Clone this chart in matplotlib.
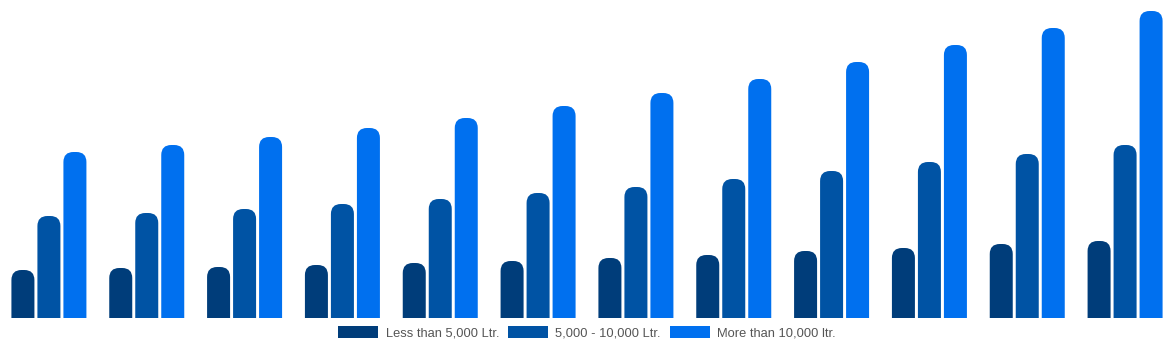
import numpy as np
import matplotlib.pyplot as plt
from matplotlib.patches import FancyBboxPatch, Patch

plt.rcParams["font.family"] = ["Liberation Sans", "DejaVu Sans"]

categories = ["1", "2", "3", "4", "5", "6", "7", "8", "9", "10", "11", "12"]
less_5000 = [48, 50, 51, 53, 55, 57, 60, 63, 67, 70, 74, 77]
mid_5000_10000 = [102, 105, 109, 114, 119, 125, 131, 139, 147, 156, 164, 173]
more_10000 = [166, 173, 181, 190, 200, 212, 225, 239, 256, 273, 290, 307]

series = [
    ("Less than 5,000 Ltr.", less_5000, "#003d7a"),
    ("5,000 - 10,000 Ltr.", mid_5000_10000, "#0053a4"),
    ("More than 10,000 ltr.", more_10000, "#0070ef"),
]

W, H, DPI = 1174, 350, 100
fig = plt.figure(figsize=(W / DPI, H / DPI), dpi=DPI)
ax = fig.add_axes([0, 32 / H, 1, 318 / H])
ax.set_xlim(-0.5, len(categories) - 0.5)
ax.set_ylim(0, 318)
ax.axis("off")

x = np.arange(len(categories))
px_per_x = W / len(categories)
bar_w = 23 / px_per_x
step = 26 / px_per_x
radius = 10 / px_per_x
aspect = px_per_x  # 1 y unit = 1 px

for k, (label, vals, color) in enumerate(series):
    bars = ax.bar(x + (k - 1) * step, vals, width=bar_w, color=color)
    for rect in bars:
        rect.set_visible(False)
        r = FancyBboxPatch(
            (rect.get_x(), -20),
            rect.get_width(),
            rect.get_height() + 20,
            boxstyle=f"round,pad=0,rounding_size={radius}",
            mutation_aspect=aspect,
            facecolor=color,
            edgecolor="none",
        )
        ax.add_patch(r)

handles = [Patch(facecolor=c, edgecolor="none") for _, _, c in series]
fig.legend(
    handles,
    [s[0] for s in series],
    loc="center",
    bbox_to_anchor=(0.5, 1 - 333 / H),
    ncol=3,
    frameon=False,
    fontsize=9.3,
    labelcolor="#555555",
    handlelength=3.1,
    handleheight=1.0,
    handletextpad=0.55,
    columnspacing=0.7,
)

fig.savefig("out.png", dpi=DPI)
